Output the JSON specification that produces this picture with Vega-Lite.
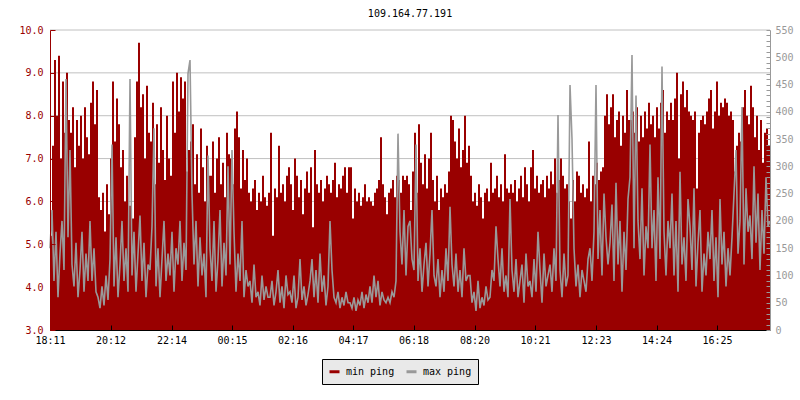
{
"$schema": "https://vega.github.io/schema/vega-lite/v6.json",
"autosize": {"type": "none"},
"padding": {"left": 50, "top": 30, "right": 30, "bottom": 70},
"width": 720,
"height": 300,
"background": "#ffffff",
"config": {
  "font": "DejaVu Sans Mono",
  "view": {"stroke": null},
  "legend": {"orient": "none", "legendX": 272, "legendY": 329, "direction": "horizontal", "fillColor": "#e9e9e9", "strokeColor": "#000000", "padding": 6, "symbolType": "stroke", "symbolSize": 100, "symbolStrokeWidth": 3, "labelFont": "DejaVu Sans Mono", "labelFontSize": 10, "labelColor": "#000000", "labelOffset": 5, "columnPadding": 5}
},
"title": {"text": "109.164.77.191", "font": "DejaVu Sans Mono", "fontSize": 10, "fontWeight": "normal", "color": "#000000", "offset": 11, "baseline": "bottom", "anchor": "middle", "dy": 15},
"data": {"values": [
{"t":0,"min":5.2,"max":150},{"t":4,"min":7.3,"max":220},{"t":8,"min":9.3,"max":90},{"t":12,"min":8.0,"max":180},{"t":16,"min":9.4,"max":60},{"t":20,"min":7.0,"max":140},{"t":24,"min":8.8,"max":200},{"t":28,"min":7.6,"max":110},{"t":32,"min":9.0,"max":460},{"t":36,"min":7.9,"max":170},
{"t":40,"min":7.6,"max":330},{"t":44,"min":8.2,"max":120},{"t":48,"min":6.8,"max":80},{"t":52,"min":7.9,"max":160},{"t":56,"min":7.3,"max":60},{"t":60,"min":8.0,"max":110},{"t":64,"min":7.0,"max":180},{"t":68,"min":8.2,"max":70},{"t":72,"min":7.5,"max":140},{"t":76,"min":7.1,"max":90},
{"t":80,"min":8.3,"max":200},{"t":84,"min":8.8,"max":90},{"t":88,"min":7.8,"max":150},{"t":92,"min":8.6,"max":70},{"t":96,"min":6.1,"max":60},{"t":100,"min":5.8,"max":40},{"t":104,"min":6.2,"max":80},{"t":108,"min":5.3,"max":45},{"t":112,"min":6.4,"max":100},{"t":116,"min":5.7,"max":55},
{"t":120,"min":7.0,"max":130},{"t":124,"min":8.8,"max":340},{"t":128,"min":7.4,"max":80},{"t":132,"min":8.4,"max":170},{"t":136,"min":7.8,"max":60},{"t":140,"min":6.8,"max":120},{"t":144,"min":7.2,"max":200},{"t":148,"min":6.0,"max":90},{"t":152,"min":6.6,"max":150},{"t":156,"min":5.9,"max":70},
{"t":160,"min":5.9,"max":460},{"t":164,"min":5.6,"max":100},{"t":168,"min":7.5,"max":180},{"t":172,"min":8.8,"max":70},{"t":176,"min":9.7,"max":140},{"t":180,"min":8.2,"max":210},{"t":184,"min":8.5,"max":90},{"t":188,"min":7.0,"max":160},{"t":192,"min":8.7,"max":60},{"t":196,"min":7.6,"max":120},
{"t":200,"min":7.4,"max":110},{"t":204,"min":8.3,"max":190},{"t":208,"min":6.4,"max":370},{"t":212,"min":7.8,"max":80},{"t":216,"min":6.9,"max":150},{"t":220,"min":8.2,"max":60},{"t":224,"min":7.2,"max":130},{"t":228,"min":6.5,"max":200},{"t":232,"min":8.0,"max":90},{"t":236,"min":7.0,"max":140},
{"t":240,"min":6.6,"max":100},{"t":244,"min":8.8,"max":180},{"t":248,"min":7.6,"max":70},{"t":252,"min":9.0,"max":150},{"t":256,"min":8.1,"max":120},{"t":260,"min":8.9,"max":200},{"t":264,"min":8.4,"max":90},{"t":268,"min":8.8,"max":160},{"t":272,"min":6.7,"max":110},{"t":276,"min":7.2,"max":470},
{"t":280,"min":7.4,"max":495},{"t":284,"min":7.8,"max":250},{"t":288,"min":6.4,"max":120},{"t":292,"min":7.1,"max":200},{"t":296,"min":6.2,"max":80},{"t":300,"min":7.7,"max":170},{"t":304,"min":6.8,"max":100},{"t":308,"min":6.0,"max":140},{"t":312,"min":7.3,"max":60},{"t":316,"min":6.6,"max":320},
{"t":320,"min":6.6,"max":150},{"t":324,"min":7.4,"max":90},{"t":328,"min":6.2,"max":200},{"t":332,"min":7.0,"max":70},{"t":336,"min":7.5,"max":130},{"t":340,"min":6.4,"max":220},{"t":344,"min":6.9,"max":80},{"t":348,"min":6.1,"max":160},{"t":352,"min":7.6,"max":100},{"t":356,"min":7.1,"max":300},
{"t":360,"min":7.0,"max":120},{"t":364,"min":6.4,"max":330},{"t":368,"min":7.7,"max":180},{"t":372,"min":8.1,"max":70},{"t":376,"min":7.5,"max":140},{"t":380,"min":6.3,"max":90},{"t":384,"min":7.2,"max":200},{"t":388,"min":6.5,"max":60},{"t":392,"min":7.0,"max":110},{"t":396,"min":6.2,"max":80},
{"t":400,"min":6.0,"max":90},{"t":404,"min":6.3,"max":50},{"t":408,"min":6.5,"max":120},{"t":412,"min":5.8,"max":60},{"t":416,"min":6.2,"max":70},{"t":420,"min":6.0,"max":45},{"t":424,"min":6.6,"max":100},{"t":428,"min":6.1,"max":55},{"t":432,"min":5.9,"max":80},{"t":436,"min":6.2,"max":60},
{"t":440,"min":7.6,"max":60},{"t":444,"min":5.2,"max":90},{"t":448,"min":6.3,"max":45},{"t":452,"min":6.1,"max":70},{"t":456,"min":7.3,"max":110},{"t":460,"min":6.2,"max":50},{"t":464,"min":6.4,"max":80},{"t":468,"min":6.0,"max":40},{"t":472,"min":6.6,"max":100},{"t":476,"min":6.8,"max":65},
{"t":480,"min":6.4,"max":70},{"t":484,"min":5.8,"max":50},{"t":488,"min":7.0,"max":100},{"t":492,"min":6.6,"max":40},{"t":496,"min":6.1,"max":60},{"t":500,"min":6.5,"max":130},{"t":504,"min":5.7,"max":55},{"t":508,"min":6.3,"max":80},{"t":512,"min":6.7,"max":45},{"t":516,"min":6.2,"max":65},
{"t":520,"min":6.8,"max":90},{"t":524,"min":5.4,"max":130},{"t":528,"min":7.2,"max":60},{"t":532,"min":6.4,"max":110},{"t":536,"min":6.2,"max":50},{"t":540,"min":6.5,"max":140},{"t":544,"min":6.0,"max":70},{"t":548,"min":6.3,"max":100},{"t":552,"min":6.6,"max":45},{"t":556,"min":6.4,"max":80},
{"t":560,"min":6.2,"max":200},{"t":564,"min":6.5,"max":110},{"t":568,"min":6.9,"max":60},{"t":572,"min":6.1,"max":50},{"t":576,"min":6.4,"max":70},{"t":580,"min":6.3,"max":40},{"t":584,"min":6.6,"max":60},{"t":588,"min":6.8,"max":45},{"t":592,"min":6.2,"max":70},{"t":596,"min":6.8,"max":50},
{"t":600,"min":6.8,"max":50},{"t":604,"min":5.6,"max":40},{"t":608,"min":6.3,"max":60},{"t":612,"min":6.0,"max":35},{"t":616,"min":6.2,"max":55},{"t":620,"min":5.9,"max":45},{"t":624,"min":6.1,"max":70},{"t":628,"min":6.4,"max":40},{"t":632,"min":6.0,"max":65},{"t":636,"min":6.1,"max":50},
{"t":640,"min":6.0,"max":80},{"t":644,"min":5.9,"max":50},{"t":648,"min":6.2,"max":100},{"t":652,"min":6.3,"max":60},{"t":656,"min":6.5,"max":90},{"t":660,"min":7.5,"max":45},{"t":664,"min":6.4,"max":70},{"t":668,"min":6.1,"max":55},{"t":672,"min":5.7,"max":50},{"t":676,"min":6.2,"max":60},
{"t":680,"min":6.3,"max":50},{"t":684,"min":6.5,"max":70},{"t":688,"min":6.1,"max":60},{"t":692,"min":6.6,"max":90},{"t":696,"min":6.5,"max":360},{"t":700,"min":6.2,"max":180},{"t":704,"min":6.6,"max":120},{"t":708,"min":6.5,"max":220},{"t":712,"min":6.6,"max":100},{"t":716,"min":6.4,"max":190},
{"t":720,"min":5.8,"max":200},{"t":724,"min":6.7,"max":130},{"t":728,"min":7.6,"max":110},{"t":732,"min":6.2,"max":340},{"t":736,"min":7.8,"max":90},{"t":740,"min":6.9,"max":150},{"t":744,"min":6.4,"max":70},{"t":748,"min":7.1,"max":120},{"t":752,"min":6.3,"max":160},{"t":756,"min":7.0,"max":80},
{"t":760,"min":7.6,"max":140},{"t":764,"min":6.5,"max":220},{"t":768,"min":6.0,"max":100},{"t":772,"min":6.6,"max":80},{"t":776,"min":5.8,"max":130},{"t":780,"min":6.3,"max":60},{"t":784,"min":6.1,"max":110},{"t":788,"min":6.4,"max":70},{"t":792,"min":6.2,"max":150},{"t":796,"min":6.7,"max":90},
{"t":800,"min":8.0,"max":226},{"t":804,"min":7.9,"max":120},{"t":808,"min":7.4,"max":80},{"t":812,"min":7.0,"max":140},{"t":816,"min":7.7,"max":70},{"t":820,"min":6.8,"max":110},{"t":824,"min":7.2,"max":60},{"t":828,"min":8.0,"max":150},{"t":832,"min":6.9,"max":90},{"t":836,"min":7.3,"max":100},
{"t":840,"min":6.6,"max":100},{"t":844,"min":6.0,"max":50},{"t":848,"min":6.2,"max":70},{"t":852,"min":5.9,"max":35},{"t":856,"min":6.4,"max":90},{"t":860,"min":6.1,"max":40},{"t":864,"min":5.6,"max":60},{"t":868,"min":6.2,"max":45},{"t":872,"min":6.3,"max":80},{"t":876,"min":6.0,"max":55},
{"t":880,"min":6.9,"max":60},{"t":884,"min":6.2,"max":110},{"t":888,"min":6.3,"max":90},{"t":892,"min":6.6,"max":190},{"t":896,"min":6.1,"max":130},{"t":900,"min":6.4,"max":80},{"t":904,"min":6.0,"max":150},{"t":908,"min":7.1,"max":70},{"t":912,"min":6.3,"max":100},{"t":916,"min":6.2,"max":60},
{"t":920,"min":6.4,"max":240},{"t":924,"min":6.2,"max":110},{"t":928,"min":6.5,"max":70},{"t":932,"min":6.0,"max":130},{"t":936,"min":6.3,"max":60},{"t":940,"min":6.6,"max":90},{"t":944,"min":6.1,"max":120},{"t":948,"min":6.8,"max":50},{"t":952,"min":6.4,"max":140},{"t":956,"min":6.0,"max":80},
{"t":960,"min":6.8,"max":90},{"t":964,"min":7.2,"max":60},{"t":968,"min":6.3,"max":130},{"t":972,"min":6.6,"max":70},{"t":976,"min":6.2,"max":180},{"t":980,"min":6.4,"max":110},{"t":984,"min":6.5,"max":50},{"t":988,"min":6.1,"max":140},{"t":992,"min":6.6,"max":80},{"t":996,"min":6.3,"max":100},
{"t":1000,"min":6.7,"max":120},{"t":1004,"min":6.4,"max":70},{"t":1008,"min":7.0,"max":150},{"t":1012,"min":6.2,"max":90},{"t":1016,"min":6.5,"max":394},{"t":1020,"min":7.0,"max":110},{"t":1024,"min":6.6,"max":60},{"t":1028,"min":6.3,"max":140},{"t":1032,"min":6.4,"max":80},{"t":1036,"min":6.0,"max":100},
{"t":1040,"min":5.6,"max":449},{"t":1044,"min":6.5,"max":350},{"t":1048,"min":6.0,"max":150},{"t":1052,"min":6.7,"max":80},{"t":1056,"min":6.6,"max":120},{"t":1060,"min":6.2,"max":60},{"t":1064,"min":6.4,"max":110},{"t":1068,"min":6.1,"max":90},{"t":1072,"min":6.3,"max":70},{"t":1076,"min":7.4,"max":130},
{"t":1080,"min":6.0,"max":150},{"t":1084,"min":6.6,"max":90},{"t":1088,"min":6.4,"max":180},{"t":1092,"min":6.9,"max":449},{"t":1096,"min":6.5,"max":130},{"t":1100,"min":6.7,"max":220},{"t":1104,"min":6.8,"max":100},{"t":1108,"min":8.0,"max":250},{"t":1112,"min":8.5,"max":170},{"t":1116,"min":7.8,"max":120},
{"t":1120,"min":8.2,"max":160},{"t":1124,"min":8.5,"max":230},{"t":1128,"min":7.5,"max":90},{"t":1132,"min":7.9,"max":270},{"t":1136,"min":8.1,"max":120},{"t":1140,"min":7.3,"max":200},{"t":1144,"min":8.0,"max":70},{"t":1148,"min":7.6,"max":180},{"t":1152,"min":8.6,"max":110},{"t":1156,"min":7.9,"max":240},
{"t":1160,"min":7.9,"max":280},{"t":1164,"min":8.1,"max":504},{"t":1168,"min":7.6,"max":150},{"t":1172,"min":8.2,"max":430},{"t":1176,"min":7.4,"max":200},{"t":1180,"min":8.0,"max":130},{"t":1184,"min":7.5,"max":260},{"t":1188,"min":8.1,"max":100},{"t":1192,"min":7.7,"max":190},{"t":1196,"min":8.3,"max":150},
{"t":1200,"min":7.8,"max":340},{"t":1204,"min":8.0,"max":150},{"t":1208,"min":7.5,"max":220},{"t":1212,"min":8.2,"max":90},{"t":1216,"min":7.7,"max":280},{"t":1220,"min":8.3,"max":130},{"t":1224,"min":8.6,"max":483},{"t":1228,"min":7.6,"max":180},{"t":1232,"min":8.1,"max":100},{"t":1236,"min":7.9,"max":200},
{"t":1240,"min":8.3,"max":150},{"t":1244,"min":7.9,"max":250},{"t":1248,"min":8.4,"max":100},{"t":1252,"min":9.0,"max":200},{"t":1256,"min":7.0,"max":70},{"t":1260,"min":8.5,"max":290},{"t":1264,"min":8.8,"max":120},{"t":1268,"min":8.2,"max":170},{"t":1272,"min":8.6,"max":90},{"t":1276,"min":8.1,"max":240},
{"t":1280,"min":8.0,"max":190},{"t":1284,"min":7.9,"max":110},{"t":1288,"min":8.1,"max":260},{"t":1292,"min":6.3,"max":80},{"t":1296,"min":7.6,"max":160},{"t":1300,"min":7.9,"max":220},{"t":1304,"min":8.0,"max":70},{"t":1308,"min":7.8,"max":140},{"t":1312,"min":8.1,"max":100},{"t":1316,"min":8.4,"max":180},
{"t":1320,"min":8.6,"max":130},{"t":1324,"min":7.7,"max":220},{"t":1328,"min":8.1,"max":90},{"t":1332,"min":8.8,"max":170},{"t":1336,"min":8.0,"max":60},{"t":1340,"min":8.3,"max":240},{"t":1344,"min":8.2,"max":120},{"t":1348,"min":8.4,"max":180},{"t":1352,"min":8.3,"max":80},{"t":1356,"min":8.0,"max":150},
{"t":1360,"min":8.1,"max":100},{"t":1364,"min":7.9,"max":170},{"t":1368,"min":6.7,"max":250},{"t":1372,"min":7.3,"max":330},{"t":1376,"min":7.6,"max":140},{"t":1380,"min":7.4,"max":200},{"t":1384,"min":8.2,"max":409},{"t":1388,"min":8.6,"max":120},{"t":1392,"min":8.0,"max":260},{"t":1396,"min":7.8,"max":180},
{"t":1400,"min":8.7,"max":210},{"t":1404,"min":8.2,"max":130},{"t":1408,"min":7.5,"max":300},{"t":1412,"min":8.0,"max":160},{"t":1416,"min":7.2,"max":250},{"t":1420,"min":7.9,"max":110},{"t":1424,"min":6.9,"max":220},{"t":1428,"min":7.6,"max":140},{"t":1432,"min":7.7,"max":280},{"t":1436,"min":7.3,"max":190},
{"t":1440,"min":7.2,"max":200}
]},
"layer": [
  {
    "layer": [
      {
        "data": {"values": [{"g":3},{"g":4},{"g":5},{"g":6},{"g":7},{"g":8},{"g":9},{"g":10}]},
        "mark": {"type": "rule", "color": "#c0c0c0", "strokeWidth": 1},
        "encoding": {"y": {"field": "g", "type": "quantitative"}}
      },
      {
        "mark": {"type": "area", "interpolate": "step-after", "color": "#990000"},
        "encoding": {
          "x": {"field": "t", "type": "quantitative", "scale": {"domain": [0, 1440], "nice": false},
                "axis": {"title": null, "values": [0,121,243,364,485,606,727,849,970,1092,1213,1334], "labelExpr": "timeFormat(datetime(2024,0,1,18,11+datum.value),'%H:%M')", "labelFlush": false, "labelOverlap": false, "grid": false, "tickSize": -5, "labelPadding": 10, "domainColor": "#000000", "tickColor": "#000000", "labelColor": "#000000", "labelFont": "DejaVu Sans Mono", "labelFontSize": 10, "zindex": 1}},
          "y": {"field": "min", "type": "quantitative", "scale": {"domain": [3, 10], "zero": false, "nice": false},
                "axis": {"orient": "left", "title": null, "values": [3,3.5,4,4.5,5,5.5,6,6.5,7,7.5,8,8.5,9,9.5,10], "format": ".1f", "labelExpr": "datum.value % 1 == 0 ? datum.label : ''", "labelOverlap": false, "grid": false, "tickSize": -5, "labelPadding": 12, "domainColor": "#990000", "tickColor": "#990000", "labelColor": "#990000", "labelFont": "DejaVu Sans Mono", "labelFontSize": 10, "zindex": 1}},
          "y2": {"datum": 3},
          "color": {"datum": "min ping", "scale": {"domain": ["min ping", "max ping"], "range": ["#990000", "#999999"]},
                    "legend": {"title": null, "labelExpr": "datum.label == 'max ping' ? 'max ping  ' : datum.label",
                               "encode": {"symbols": {"update": {"stroke": {"scale": "color", "field": "value"}, "strokeWidth": {"value": 3}, "fill": {"value": "transparent"}}}}}}
        }
      }
    ]
  },
  {
    "mark": {"type": "line", "color": "#999999", "strokeWidth": 1.6, "interpolate": "linear"},
    "encoding": {
      "x": {"field": "t", "type": "quantitative"},
      "y": {"field": "max", "type": "quantitative", "scale": {"domain": [0, 550], "nice": false},
            "axis": {"orient": "right", "title": null, "values": [0,10,20,30,40,50,60,70,80,90,100,110,120,130,140,150,160,170,180,190,200,210,220,230,240,250,260,270,280,290,300,310,320,330,340,350,360,370,380,390,400,410,420,430,440,450,460,470,480,490,500,510,520,530,540,550], "labelExpr": "datum.value % 50 == 0 ? datum.label : ''", "labelOverlap": false, "grid": false, "tickSize": -4, "labelPadding": 9, "domainColor": "#999999", "tickColor": "#999999", "labelColor": "#999999", "labelFont": "DejaVu Sans Mono", "labelFontSize": 10, "zindex": 1}},
      "color": {"datum": "max ping"}
    }
  }
],
"resolve": {"scale": {"y": "independent"}}
}
